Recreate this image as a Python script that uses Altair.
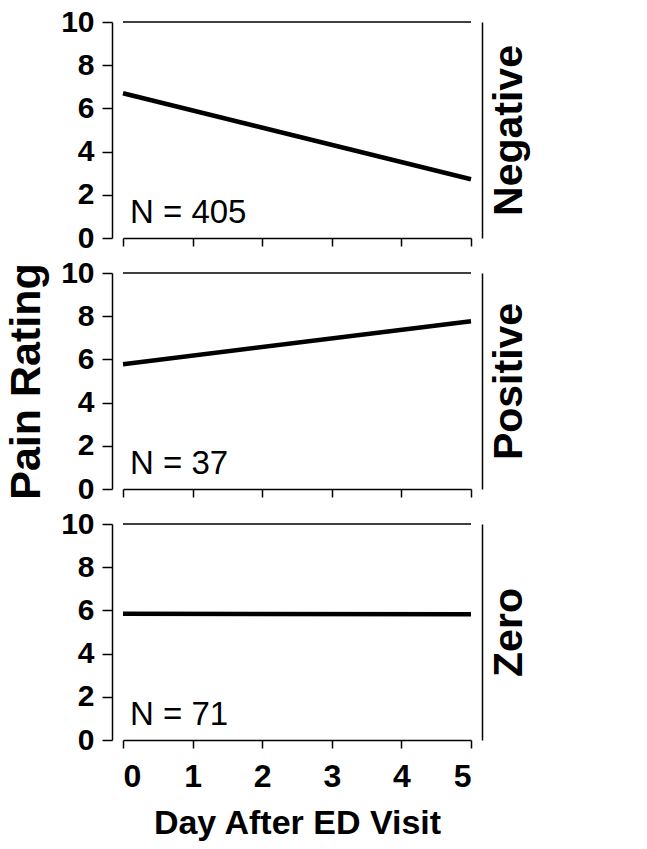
import altair as alt
import pandas as pd

panels = ["Negative", "Positive", "Zero"]
n_labels = ["N = 405", "N = 37", "N = 71"]
days = [0, 5]
pain_values = {
    "Negative": [6.70, 2.72],
    "Positive": [5.78, 7.77],
    "Zero": [5.85, 5.82],
}
y_ticks = [0, 2, 4, 6, 8, 10]
x_ticks = [0, 1, 2, 3, 4, 5]
label_day = [0.1]
label_pain = [0.7]
top_pain = [10]

BOLD = "Liberation Sans"
W, H = 348, 216


def panel(i, name):
    bottom = i == len(panels) - 1
    middle = i == 1
    xscale = alt.Scale(domain=[0, 5], nice=False, zero=False)
    yscale = alt.Scale(domain=[0, 10], nice=False)

    line_df = pd.DataFrame({"day": days, "pain": pain_values[name]})
    top_df = pd.DataFrame({"day": [days[0]], "day2": [days[-1]], "pain": top_pain})
    n_df = pd.DataFrame({"day": label_day, "pain": label_pain, "label": [n_labels[i]]})

    xaxis = alt.Axis(
        values=x_ticks, labels=bottom, ticks=True, tickSize=8, tickWidth=1.5,
        tickColor="black", domainColor="black", domainWidth=1.5, grid=False,
        labelFont=BOLD, labelFontWeight="bold", labelFontSize=32, labelColor="black",
        labelPadding=13, titleFont=BOLD, titleFontWeight="bold", titleFontSize=34,
        titleColor="black", titlePadding=14, format="d",
    )
    yaxis = alt.Axis(
        values=y_ticks, orient="left", offset=11, tickSize=10, tickWidth=1.5,
        tickColor="black", domainColor="black", domainWidth=1.5, grid=False,
        labelFont=BOLD, labelFontWeight="bold", labelFontSize=30, labelColor="black",
        labelPadding=8, titleFont=BOLD, titleFontWeight="bold", titleFontSize=43,
        titleColor="black", titlePadding=12, format="d",
    )
    raxis = alt.Axis(
        orient="right", offset=11, labels=False, ticks=False, grid=False,
        domainColor="black", domainWidth=1.5, title=name, titleAngle=270,
        titleBaseline="top", titleFont=BOLD, titleFontWeight="bold", titleFontSize=41,
        titleColor="black", titlePadding=7,
    )

    line = alt.Chart(line_df).mark_line(color="black", strokeWidth=4.5).encode(
        x=alt.X("day:Q", scale=xscale, axis=xaxis,
                title="Day After ED Visit" if bottom else ""),
        y=alt.Y("pain:Q", scale=yscale, axis=yaxis,
                title="Pain Rating" if middle else ""),
    )
    top = alt.Chart(top_df).mark_rule(color="black", strokeWidth=1.7).encode(
        x=alt.X("day:Q", scale=xscale),
        x2="day2:Q",
        y=alt.Y("pain:Q", scale=yscale, axis=raxis),
    )
    ntext = alt.Chart(n_df).mark_text(
        align="left", baseline="alphabetic", font="Liberation Sans", fontSize=33,
        color="black",
    ).encode(
        x=alt.X("day:Q", scale=xscale),
        y=alt.Y("pain:Q", scale=yscale, axis=None),
        text="label:N",
    )
    return alt.layer(line, top, ntext).resolve_axis(y="independent").properties(
        width=W, height=H
    )


chart = alt.vconcat(*[panel(i, p) for i, p in enumerate(panels)], spacing=35,
                    bounds="flush").properties(
    padding={"left": 5, "top": 7, "right": 5, "bottom": 5}
).configure(background="white").configure_view(stroke=None)

chart.save("out.html", embed_options={"renderer": "svg", "actions": False})
